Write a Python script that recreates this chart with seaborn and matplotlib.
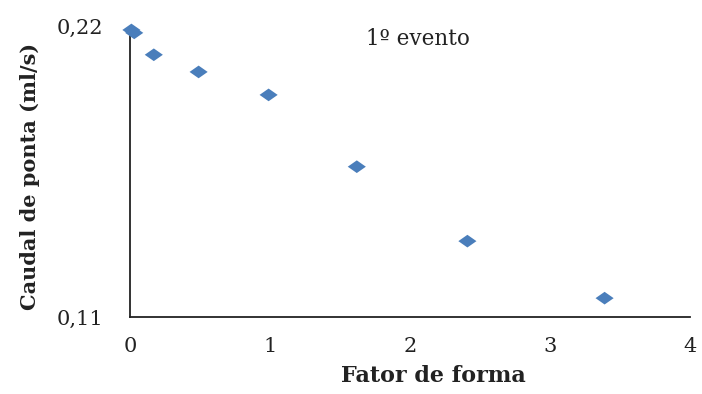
import matplotlib
matplotlib.use("Agg")
import matplotlib.pyplot as plt
from matplotlib.path import Path
import seaborn as sns
import pandas as pd

fator_forma = [0.01, 0.03, 0.17, 0.49, 0.99, 1.62, 2.41, 3.39]
caudal_ponta = [0.2188, 0.2177, 0.2094, 0.2029, 0.1942, 0.1670, 0.1388, 0.1172]
x_ticks = [0, 1, 2, 3, 4]
y_ticks = [0.11, 0.22]
y_tick_labels = ["0,11", "0,22"]

sns.set_theme(style="white")
plt.rcParams['font.family'] = ['DejaVu Serif', 'Liberation Serif']

df = pd.DataFrame({"x": fator_forma, "y": caudal_ponta})

fig = plt.figure(figsize=(7.02, 3.94), dpi=100)
ax = fig.add_axes([0.1852, 0.195, 0.7977, 0.737])

diamond = Path([(-1, 0), (0, 0.7), (1, 0), (0, -0.7), (-1, 0)],
               [Path.MOVETO, Path.LINETO, Path.LINETO, Path.LINETO, Path.CLOSEPOLY])

sns.scatterplot(data=df, x="x", y="y", ax=ax, marker=diamond, s=170,
                color="#4A7EBB", edgecolor="none", clip_on=False, zorder=3)

ax.set_xlim(0, 4)
ax.set_ylim(0.11, 0.22)
ax.set_xticks(x_ticks)
ax.set_xticklabels([str(t) for t in x_ticks])
ax.set_yticks(y_ticks)
ax.set_yticklabels(y_tick_labels)

for s in ["top", "right"]:
    ax.spines[s].set_visible(False)
for s in ["left", "bottom"]:
    ax.spines[s].set_color("#222222")
    ax.spines[s].set_linewidth(1.3)

ax.tick_params(axis="both", direction="out", width=1.2, color="#222222",
               labelsize=15, labelcolor="#222222")
ax.tick_params(axis="y", length=8.5, pad=11)
ax.tick_params(axis="x", length=5.5, pad=9)

ax.set_xlabel("Fator de forma", fontsize=16, fontweight="bold", color="#222222")
ax.set_ylabel("Caudal de ponta (ml/s)", fontsize=15, fontweight="bold", color="#222222")
ax.xaxis.set_label_coords(0.541, -0.165)
ax.yaxis.set_label_coords(-0.161, 0.484)

ax.text(0.514, 0.957, "1º evento", transform=ax.transAxes, fontsize=15.5, color="#222222",
        ha="center", va="center")

fig.savefig("out.png", dpi=100)
